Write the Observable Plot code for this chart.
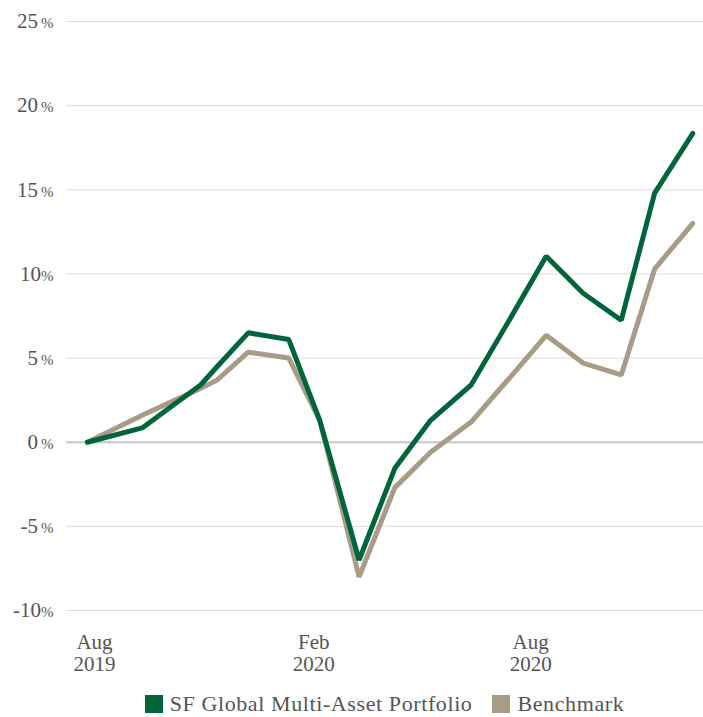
<!DOCTYPE html>
<html>
<head>
<meta charset="utf-8">
<script src="https://cdn.jsdelivr.net/npm/d3@7"></script>
<script src="https://cdn.jsdelivr.net/npm/@observablehq/plot@0.6"></script>
<style>
  html, body { margin: 0; padding: 0; background: #fff; }
  #chart { width: 703px; }
  .legend { display: flex; justify-content: center; align-items: center; padding-left: 66px; width: 637px; height: 27px;
            font-family: "Liberation Serif", serif; font-size: 22px; letter-spacing: 0.6px; color: #555; }
  .legend .item { display: flex; align-items: center; margin: 0 10px; }
  .legend .sw { width: 18px; height: 18px; margin-right: 7px; }
</style>
</head>
<body>
<div id="chart"></div>
<script>
const seriesNames = ["SF Global Multi-Asset Portfolio", "Benchmark"];
const seriesColors = ["#00653b", "#a89c89"];
const dates = ["2019-07-26","2019-09-10","2019-10-29","2019-11-12","2019-12-08","2020-01-11","2020-02-06",
               "2020-03-10","2020-04-09","2020-05-09","2020-06-12","2020-07-14","2020-08-14","2020-09-14",
               "2020-10-16","2020-11-13","2020-12-15"];
const portfolio = [0, 0.85, 3.4, 4.5, 6.5, 6.1, 1.3, -7.0, -1.55, 1.3, 3.4, 7.25, 11.05, 8.85, 7.25, 14.8, 18.35];
const benchmark = [0, 1.6, 3.2, 3.7, 5.35, 5.0, 1.3, -8.0, -2.7, -0.6, 1.2, 3.8, 6.35, 4.7, 4.0, 10.3, 13.0];
const yTicks = [-10, -5, 0, 5, 10, 15, 20, 25];
const xTicks = ["2019-08-01", "2020-02-01", "2020-08-01"];
const monthNames = ["Jan","Feb","Mar","Apr","May","Jun","Jul","Aug","Sep","Oct","Nov","Dec"];

const rows = [];
[portfolio, benchmark].forEach((vals, s) => {
  vals.forEach((v, i) => rows.push({date: new Date(dates[i]), value: v, series: seriesNames[s]}));
});

const svg = Plot.plot({
  width: 703,
  height: 690,
  marginLeft: 66,
  marginRight: 0,
  marginTop: 21,
  marginBottom: 80,
  style: {fontFamily: "'Liberation Serif', serif", fontSize: "21px", color: "#555", background: "#fff"},
  x: {
    type: "utc",
    domain: [new Date("2019-07-08T12:00:00Z"), new Date("2020-12-24T00:00:00Z")],
    label: null
  },
  y: {
    domain: [-10, 25],
    label: null
  },
  color: {domain: seriesNames, range: seriesColors},
  marks: [
    Plot.ruleY(yTicks.filter(d => d !== 0), {stroke: "#dcdcdc", strokeWidth: 1}),
    Plot.ruleY([0], {stroke: "#cfcfcf", strokeWidth: 2.5}),
    Plot.axisX(xTicks.map(d => new Date(d)), {
      tickFormat: d => monthNames[d.getUTCMonth()] + "\n" + d.getUTCFullYear(),
      tickSize: 0, tickPadding: 22, lineHeight: 1.08, label: null
    }),
    Plot.axisY(yTicks, {tickFormat: d => String(d), tickSize: 0, tickPadding: 13, label: null}),
    Plot.lineY(rows.filter(r => r.series === seriesNames[1]), {x: "date", y: "value", stroke: "series", strokeWidth: 5, strokeLinejoin: "miter"}),
    Plot.lineY(rows.filter(r => r.series === seriesNames[0]), {x: "date", y: "value", stroke: "series", strokeWidth: 5, strokeLinejoin: "miter"})
  ]
});

// small percent sign on y tick labels
svg.querySelectorAll('g[aria-label="y-axis tick label"] text').forEach(t => {
  const v = t.textContent;
  const ts = document.createElementNS("http://www.w3.org/2000/svg", "tspan");
  ts.textContent = "%";
  ts.setAttribute("font-size", "15px");
  if (Math.abs(+v) !== 10) ts.setAttribute("dx", "3");
  t.appendChild(ts);
});

const chart = document.getElementById("chart");
chart.appendChild(svg);
const legend = document.createElement("div");
legend.className = "legend";
seriesNames.forEach((n, i) => {
  const item = document.createElement("div");
  item.className = "item";
  const sw = document.createElement("div");
  sw.className = "sw";
  sw.style.background = seriesColors[i];
  const lab = document.createElement("span");
  lab.textContent = n;
  item.appendChild(sw); item.appendChild(lab);
  legend.appendChild(item);
});
chart.appendChild(legend);
</script>
</body>
</html>
